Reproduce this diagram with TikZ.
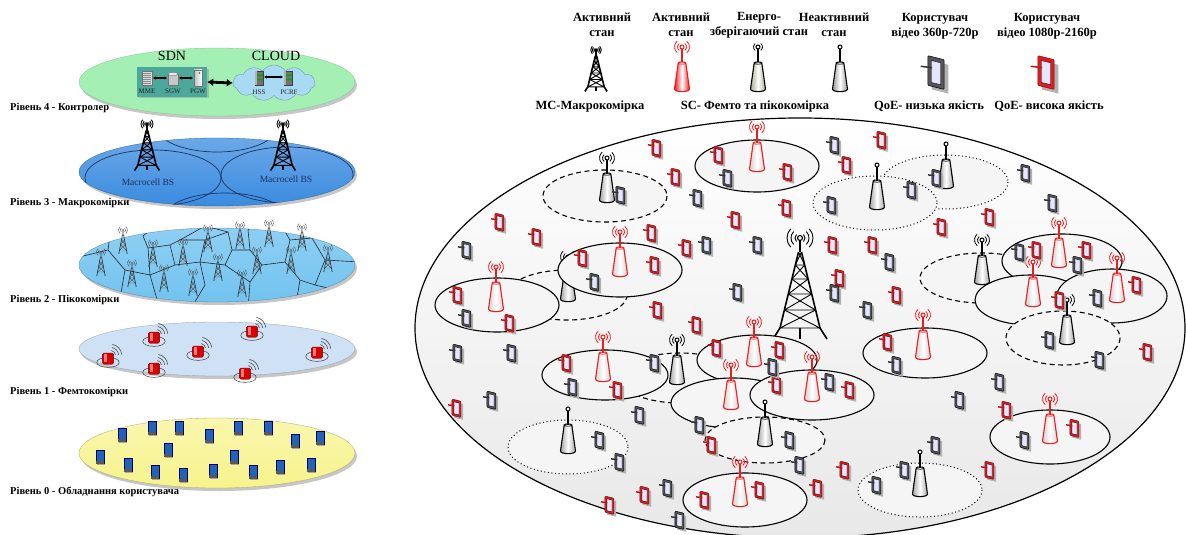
\documentclass[tikz,border=0pt]{standalone}
\usepackage{fontspec}
\setmainfont{Liberation Serif}
\usetikzlibrary{shapes.symbols,shadows,arrows.meta}

\definecolor{phgrey}{HTML}{555555}
\definecolor{phred}{HTML}{E11B1B}
\definecolor{scred}{HTML}{EE1C1C}
\definecolor{lvgreen}{HTML}{A4F0B4}
\definecolor{lvblue}{HTML}{3A8BE0}
\definecolor{lvsky}{HTML}{72C3F0}
\definecolor{lvpale}{HTML}{CFE1F5}
\definecolor{lvyellow}{HTML}{F7F38C}
\definecolor{sdnteal}{HTML}{4CA89A}
\definecolor{cloudblue}{HTML}{A9DAF3}
\definecolor{txtnavy}{HTML}{1B3260}
\definecolor{devblue}{HTML}{2063B8}
\definecolor{savegreen}{HTML}{A9AE8C}
\definecolor{cellfill}{HTML}{F5F5F5}

% ---------- building blocks ----------
\newcommand\phoneshape[3]{%
  \fill[black!30] (-2.5,-5.5) -- (5.5,-3.5) -- (5.5,10.5) -- (-2.5,8.5) -- cycle;
  \filldraw[fill=#1, draw=#2, line width=0.5, rounded corners=1]
    (-4.5,-8) -- (3.5,-6) -- (3.5,8.5) -- (-4.5,6.5) -- cycle;
  \filldraw[fill=white!90!blue, draw=black, line width=0.4]
    (-2.8,-5.6) -- (1.8,-4.5) -- (1.8,6.2) -- (-2.8,5.1) -- cycle;
  \draw[#3, line width=1.5] (-8,-2.8) -- (-2.4,-2.1);
}
\newcommand\scbody[2]{%
  \shade[left color=#2, right color=#2, middle color=white, draw=#1, line width=1.1]
    (-3.8,16) -- (-7.5,42) .. controls (-7.5,45.5) and (7.5,45.5) .. (7.5,42)
    -- (3.8,16) .. controls (3.8,14.6) and (-3.8,14.6) .. cycle;
  \draw[#1, line width=0.7] (-3.8,16) .. controls (-3.8,17.6) and (3.8,17.6) .. (3.8,16);
  \draw[#1, line width=1.1] (0,2) -- (0,15.5);
}
\newcommand\scwaves[2]{%
  \foreach \r in {#2}{%
    \draw[#1, line width=0.8] (-50:\r) arc (-50:50:\r);
    \draw[#1, line width=0.8] (130:\r) arc (130:230:\r);
  }%
}
\newcommand\towerbody{%
  \foreach \r in {5,9,13}{%
    \draw[line width=0.9] (-45:\r) arc (-45:45:\r);
    \draw[line width=0.9] (135:\r) arc (135:225:\r);
  }%
  \draw[line width=1.1] (0,0) circle (2.5);
  \draw[line width=1.4] (0,2.5) -- (0,14);
  \draw[line width=1.6] (-1.5,14) -- (-20,90) -- (-27,101);
  \draw[line width=1.6] (1.5,14) -- (20,90) -- (27,101);
  \foreach \ya/\yb in {14/27,27/41,41/56,56/72,72/90}{%
    \pgfmathsetmacro\wa{1.5+(\ya-14)*0.2428}%
    \pgfmathsetmacro\wb{1.5+(\yb-14)*0.2428}%
    \draw[line width=0.9] (-\wa,\ya) -- (\wb,\yb) (\wa,\ya) -- (-\wb,\yb) (-\wb,\yb) -- (\wb,\yb);
  }%
  \draw[line width=1.3] (0,90) -- (0,101);
}

\tikzset{
  pics/gphone/.style={code={\phoneshape{phgrey}{black}{black!80}}},
  pics/rphone/.style={code={\phoneshape{phred}{phred!55!black}{phred!85!black}}},
  pics/scon/.style={code={\scwaves{scred}{4.5,7.5}\scbody{scred}{black!18}%
      \draw[scred,line width=1,fill=white] (0,0) circle (2);}},
  pics/scsave/.style={code={\scwaves{black}{4.5,7.5}\scbody{black}{black!35}%
      \draw[line width=1,fill=white] (0,0) circle (2);}},
  pics/scoff/.style={code={\scbody{black}{black!35}%
      \draw[line width=1,fill=white] (0,0) circle (2);}},
  pics/sclegon/.style={code={\scwaves{scred}{4.5,7.5}\scbody{scred}{scred}%
      \draw[scred,line width=1,fill=white] (0,0) circle (2);}},
  pics/sclegsave/.style={code={\scwaves{black}{4.5}\scbody{black}{savegreen}%
      \draw[line width=1,fill=white] (0,0) circle (2);}},
  pics/sclegoff/.style={code={\scbody{black}{black!40}%
      \draw[line width=1,fill=white] (0,0) circle (2);}},
  pics/tower/.style={code={\towerbody}},
  pics/ptower/.style={code={
    \foreach \r in {2.6,4.4}{%
      \draw[black!70, line width=0.45] (-50:\r) arc (-50:50:\r);
      \draw[black!70, line width=0.45] (130:\r) arc (130:230:\r);}
    \fill[black!80] (0,0) circle (0.9);
    \draw[black!80, line width=0.7] (0,1) -- (0,5) (-0.6,5) -- (-4.2,24) (0.6,5) -- (4.2,24);
    \draw[black!70, line width=0.4] (-1.55,10) -- (2.5,15) (1.55,10) -- (-2.5,15)
      (-2.5,15) -- (3.45,20) (2.5,15) -- (-3.45,20)
      (-1.55,10) -- (1.55,10) (-2.5,15) -- (2.5,15) (-3.45,20) -- (3.45,20);}},
  pics/femto/.style={code={
    \draw[black!75, line width=0.5] (0,3.5) ellipse [x radius=9, y radius=4];
    \foreach \r in {4,6.5,9}{%
      \draw[black!70, line width=0.6] (2,-2) ++(-80:\r) arc (-80:-5:\r);}
    \filldraw[fill=red!85!black, draw=red!45!black, line width=0.3, rounded corners=1.5]
      (-4.5,-4) rectangle (4.5,5);
    \fill[red!30!white, opacity=0.7] (-3,-3) rectangle (-0.5,3.5);}},
  pics/udev/.style={code={
    \fill[black!35] (-2.5,-4.5) rectangle (4.5,7.5);
    \filldraw[fill=devblue, draw=black!60!blue, line width=0.5] (-3.5,-6) rectangle (3.5,6);
    \fill[black!65] (-3.5,4) rectangle (3.5,6);}},
  pics/dbicon/.style={code={
    \filldraw[fill=black!55, draw=black!75, line width=0.4] (-4,-7) rectangle (4,7);
    \fill[green!65!black] (-4,-3.5) rectangle (4,-2) (-4,1) rectangle (4,2.5);
    \fill[black!30] (-4,-7) rectangle (-2.5,7);}},
  lvlabel/.style={font=\fontsize{10.5}{12}\selectfont\bfseries, anchor=west, inner sep=0},
  legtext/.style={font=\fontsize{12.5}{15}\selectfont\bfseries, align=center, inner sep=0},
  tinylabel/.style={font=\fontsize{7}{7}\selectfont, text=black!85, inner sep=0},
  lvshadow/.style={drop shadow={shadow xshift=2pt, shadow yshift=-3pt, opacity=0.45}},
  cellsolid/.style={fill=cellfill, draw=black, line width=1.1},
  celldash/.style={fill=cellfill, draw=black, line width=1.1, dash pattern=on 5pt off 3.5pt},
  celldot/.style={fill=cellfill, draw=black, line width=1, dash pattern=on 1pt off 2.6pt},
}

\begin{document}
\begin{tikzpicture}[x=1pt, y=-1pt]
\useasboundingbox (0,0) rectangle (1186,535);

% ================= left: layered architecture =================
% level 4 - controller
\path[lvshadow, fill=lvgreen, draw=lvgreen!80!black, line width=0.3]
  (217,82) ellipse [x radius=138, y radius=34];
\node[font=\fontsize{14}{14}\selectfont] (sdn) at (172,56) {SDN};
\node[font=\fontsize{14}{14}\selectfont] (cloudtxt) at (276,56) {CLOUD};
\node[fill=sdnteal, minimum width=70, minimum height=29, inner sep=0,
      drop shadow={shadow xshift=1.5pt, shadow yshift=-1.5pt, opacity=0.4}] (sdnbox) at (172,82) {};
\node[cloud, cloud puffs=11, cloud puff arc=110, aspect=2.4, fill=cloudblue,
      draw=cloudblue!70!black, line width=0.4, minimum width=82, minimum height=36,
      inner sep=0] (cl) at (274,83) {};
% MME rack
\filldraw[fill=black!15, draw=black!55, line width=0.4] (142,71) rectangle (152,85);
\foreach \yy in {73,75,...,83} \draw[black!45, line width=0.3] (143,\yy) -- (151,\yy);
% SGW cylinder
\filldraw[fill=black!22, draw=black!55, line width=0.4] (168,74) rectangle (178,85);
\filldraw[fill=black!8, draw=black!55, line width=0.4] (173,74) ellipse [x radius=5, y radius=1.6];
% PGW server
\shade[left color=black!25, right color=white, draw=black!55, line width=0.4] (194,70) rectangle (202,86);
\fill[green!60!black] (199.5,73) circle (0.8);
\node[tinylabel] (mme) at (147,91) {MME};
\node[tinylabel] (sgw) at (173,91) {SGW};
\node[tinylabel] (pgw) at (198,91) {PGW};
\coordinate (mmeR) at (153,78); \coordinate (sgwL) at (167,78);
\coordinate (sgwR) at (179,78); \coordinate (pgwL) at (193,78);
\draw[line width=1.4, {Latex[length=2.5,width=3.5]}-{Latex[length=2.5,width=3.5]}] (mmeR) -- (sgwL);
\draw[line width=1.4, {Latex[length=2.5,width=3.5]}-{Latex[length=2.5,width=3.5]}] (sgwR) -- (pgwL);
\draw[line width=2.8, {Latex[length=6,width=8]}-{Latex[length=6,width=8]}] (sdnbox.east) -- (cl.west);
\pic at (259,78) {dbicon};
\pic at (288,78) {dbicon};
\coordinate (hssR) at (264,77); \coordinate (pcrfL) at (283,77);
\draw[line width=1.4, {Latex[length=2.5,width=3.5]}-{Latex[length=2.5,width=3.5]}] (hssR) -- (pcrfL);
\node[tinylabel] (hss) at (259,92) {HSS};
\node[tinylabel] (pcrf) at (289,92) {PCRF};
\node[lvlabel] (l4) at (10,108) {Рівень 4 - Контролер};

% level 3 - macrocells
\path[lvshadow, top color=lvblue!75!white, bottom color=lvblue, draw=lvblue!70!black, line width=0.3]
  (217,172) ellipse [x radius=138, y radius=34];
\begin{scope}
  \clip (217,172) ellipse [x radius=138, y radius=34];
  \draw[txtnavy, line width=0.7] (153,178) ellipse [x radius=68, y radius=28];
  \draw[txtnavy, line width=0.7] (287,175) ellipse [x radius=66, y radius=28];
  \draw[txtnavy, line width=0.7] (217,127) ellipse [x radius=60, y radius=25];
  \draw[txtnavy, line width=0.7] (225,219) ellipse [x radius=62, y radius=26];
\end{scope}
\pic[scale=0.46] at (147,124) {tower};
\pic[scale=0.46] at (283,124) {tower};
\node[font=\fontsize{9.5}{10}\selectfont, text=txtnavy] (mbs1) at (148,182) {Macrocell BS};
\node[font=\fontsize{9.5}{10}\selectfont, text=txtnavy] (mbs2) at (286,179) {Macrocell BS};
\node[lvlabel] (l3) at (10,203) {Рівень 3 - Макрокомірки};

% level 2 - picocells
\path[lvshadow, top color=lvsky!80!white, bottom color=lvsky, draw=lvsky!70!black, line width=0.3]
  (217,265) ellipse [x radius=138, y radius=37];
\begin{scope}
  \clip (217,265) ellipse [x radius=138, y radius=37];
  \draw[black!85, line width=0.6]
    (75,258) -- (108,250) -- (125,270) -- (118,310)
    (108,250) -- (112,220)
    (125,270) -- (150,275) -- (160,310)
    (150,275) -- (148,248) -- (143,236) -- (160,222)
    (148,248) -- (170,245) -- (175,265) -- (150,275)
    (170,245) -- (180,240) -- (205,226) -- (228,232)
    (175,265) -- (200,262) -- (205,285) -- (190,310)
    (200,262) -- (205,240) -- (180,240)
    (205,240) -- (228,232) -- (232,250) -- (225,265) -- (200,262)
    (225,265) -- (250,282) -- (248,310)
    (232,250) -- (250,250) -- (248,230) -- (262,220)
    (250,250) -- (262,265) -- (250,282)
    (262,265) -- (285,262) -- (290,240) -- (278,220)
    (285,262) -- (300,280) -- (295,310)
    (290,240) -- (312,238) -- (320,222)
    (312,238) -- (325,260) -- (360,262)
    (325,260) -- (315,285) -- (300,280)
    (315,285) -- (345,292);
\end{scope}
\foreach \px/\py in {123/230,101/252,132/263,153/243,164/268,183/242,193/272,208/228,
                     218/257,240/225,242/273,269/223,257/250,302/227,291/250,328/248}
  \pic at (\px,\py) {ptower};
\node[lvlabel] (l2) at (10,300) {Рівень 2 - Пікокомірки};

% level 1 - femtocells
\path[lvshadow, fill=lvpale, draw=lvpale!70!black, line width=0.3]
  (217,349) ellipse [x radius=138, y radius=27];
\foreach \px/\py in {108/358,154/337,154/368,198/351,252/331,245/373,317/352}
  \pic[scale=1.25] at (\px,\py) {femto};
\node[lvlabel] (l1) at (10,392) {Рівень 1 - Фемтокомірки};

% level 0 - user equipment
\path[lvshadow, top color=lvyellow!70!white, bottom color=lvyellow, draw=lvyellow!70!black, line width=0.3]
  (217,453) ellipse [x radius=138, y radius=35];
\foreach \px/\py in {122/435,152/428,179/428,209/436,238/428,268/428,295/441,320/438,
                     168/450,234/457,100/457,128/465,155/472,183/475,213/471,253/472,280/467,311/465}
  \pic[scale=1.1] at (\px,\py) {udev};
\node[lvlabel] (l0) at (10,492) {Рівень 0 - Обладнання користувача};

% ================= right: legend =================
\node[legtext] (lg1) at (602,25) {Активний\\стан};
\node[legtext] (lg2) at (681,25) {Активний\\стан};
\node[legtext] (lg3) at (759,25) {Енерго-\\зберігаючий стан};
\node[legtext] (lg4) at (834,25) {Неактивний\\стан};
\node[legtext] (lg5) at (935,26) {Користувач\\відео 360p-720p};
\node[legtext] (lg6) at (1047,26) {Користувач\\відео 1080p-2160p};
\pic[scale=0.41] at (596,50) {tower};
\pic at (682,47) {sclegon};
\pic at (758,47) {sclegsave};
\pic at (840,47) {sclegoff};
\pic[scale=2.05] at (937,72) {gphone};
\pic[scale=2.05] at (1047,72) {rphone};
\node[legtext] (lb1) at (590,106) {MC-Макрокомірка};
\node[legtext] (lb2) at (755,106) {SC- Фемто та пікокомірка};
\node[legtext] (lb3) at (929,106) {QoE- низька якість};
\node[legtext] (lb4) at (1049,106) {QoE- висока якість};

% ================= right: heterogeneous network =================
\path[draw=black, line width=1.2, top color=white, bottom color=black!9]
  (800,328) ellipse [x radius=385, y radius=210];

% small cells with their coverage areas
\path[celldash]  (605,196) ellipse [x radius=62, y radius=26]; \pic at (607,158) {scsave};
\path[cellsolid] (757,166) ellipse [x radius=62, y radius=26]; \pic at (757,127) {scon};
\path[celldot]   (945,182) ellipse [x radius=63, y radius=27]; \pic at (946,144) {scoff};
\path[celldot]   (875,203) ellipse [x radius=62, y radius=27]; \pic at (877,165) {scoff};
\path[celldash]  (567,295) ellipse [x radius=60, y radius=25]; \pic at (568,257) {scsave};
\path[cellsolid] (620,270) ellipse [x radius=62, y radius=27]; \pic at (620,232) {scon};
\path[cellsolid] (497,305) ellipse [x radius=62, y radius=27]; \pic at (496,267) {scon};
\path[celldash]  (982,278) ellipse [x radius=62, y radius=25]; \pic at (982,240) {scsave};
\path[cellsolid] (1062,261) ellipse [x radius=60, y radius=27]; \pic at (1059,223) {scon};
\path[cellsolid] (1030,300) ellipse [x radius=55, y radius=25]; \pic at (1033,262) {scon};
\path[cellsolid] (1112,296) ellipse [x radius=55, y radius=27]; \pic at (1117,258) {scon};
\path[celldash]  (1063,338) ellipse [x radius=57, y radius=27]; \pic at (1067,300) {scsave};

% macrocell
\pic at (800,238) {tower};

\path[cellsolid] (925,353) ellipse [x radius=62, y radius=25]; \pic at (923,315) {scon};
\path[celldash]  (680,378) ellipse [x radius=60, y radius=25]; \pic at (677,340) {scsave};
\path[cellsolid] (605,375) ellipse [x radius=63, y radius=25]; \pic at (603,337) {scon};
\path[cellsolid] (757,360) ellipse [x radius=60, y radius=25]; \pic at (754,322) {scon};
\path[cellsolid] (733,403) ellipse [x radius=62, y radius=25]; \pic at (731,365) {scon};
\path[cellsolid] (812,395) ellipse [x radius=62, y radius=25]; \pic at (812,357) {scon};
\path[celldash]  (765,440) ellipse [x radius=60, y radius=23]; \pic at (765,402) {scoff};
\path[celldot]   (568,447) ellipse [x radius=60, y radius=27]; \pic at (568,409) {scoff};
\path[cellsolid] (1050,437) ellipse [x radius=60, y radius=27]; \pic at (1050,399) {scon};
\path[celldot]   (920,490) ellipse [x radius=62, y radius=27]; \pic at (920,452) {scoff};
\path[cellsolid] (745,500) ellipse [x radius=62, y radius=27]; \pic at (740,462) {scon};

% users with high-quality video
\foreach \px/\py in {657/148,500/222,537/237,652/233,583/258,655/265,719/155,788/172,882/140,
    847/165,676/177,736/220,787/208,687/248,833/245,873/245,990/217,942/227,1037/250,1087/250,
    458/295,510/323,658/310,567/363,618/390,840/278,897/295,697/325,717/348,780/350,777/385,
    850/390,888/342,457/408,645/495,610/505,705/500,760/490,818/488,845/470,990/470,1007/410,
    1075/428,1148/352,1137/285,1060/300,712/445}
  \pic[scale=1.12] at (\px,\py) {rphone};
% users with low-quality video
\foreach \px/\py in {621/195,467/250,728/178,835/145,832/205,912/190,698/198,707/245,758/245,
    890/262,937/178,1026/173,1053/203,1020/252,1078/265,467/318,595/282,458/353,512/353,
    573/387,655/363,738/292,835/293,868/310,773/367,830/382,897/365,492/400,600/440,620/462,
    668/488,680/520,790/440,800/465,877/485,905/470,936/445,960/400,1000/382,1025/440,
    1100/360,1050/340,1098/298,640/415,700/425}
  \pic[scale=1.12] at (\px,\py) {gphone};

\end{tikzpicture}
\end{document}
